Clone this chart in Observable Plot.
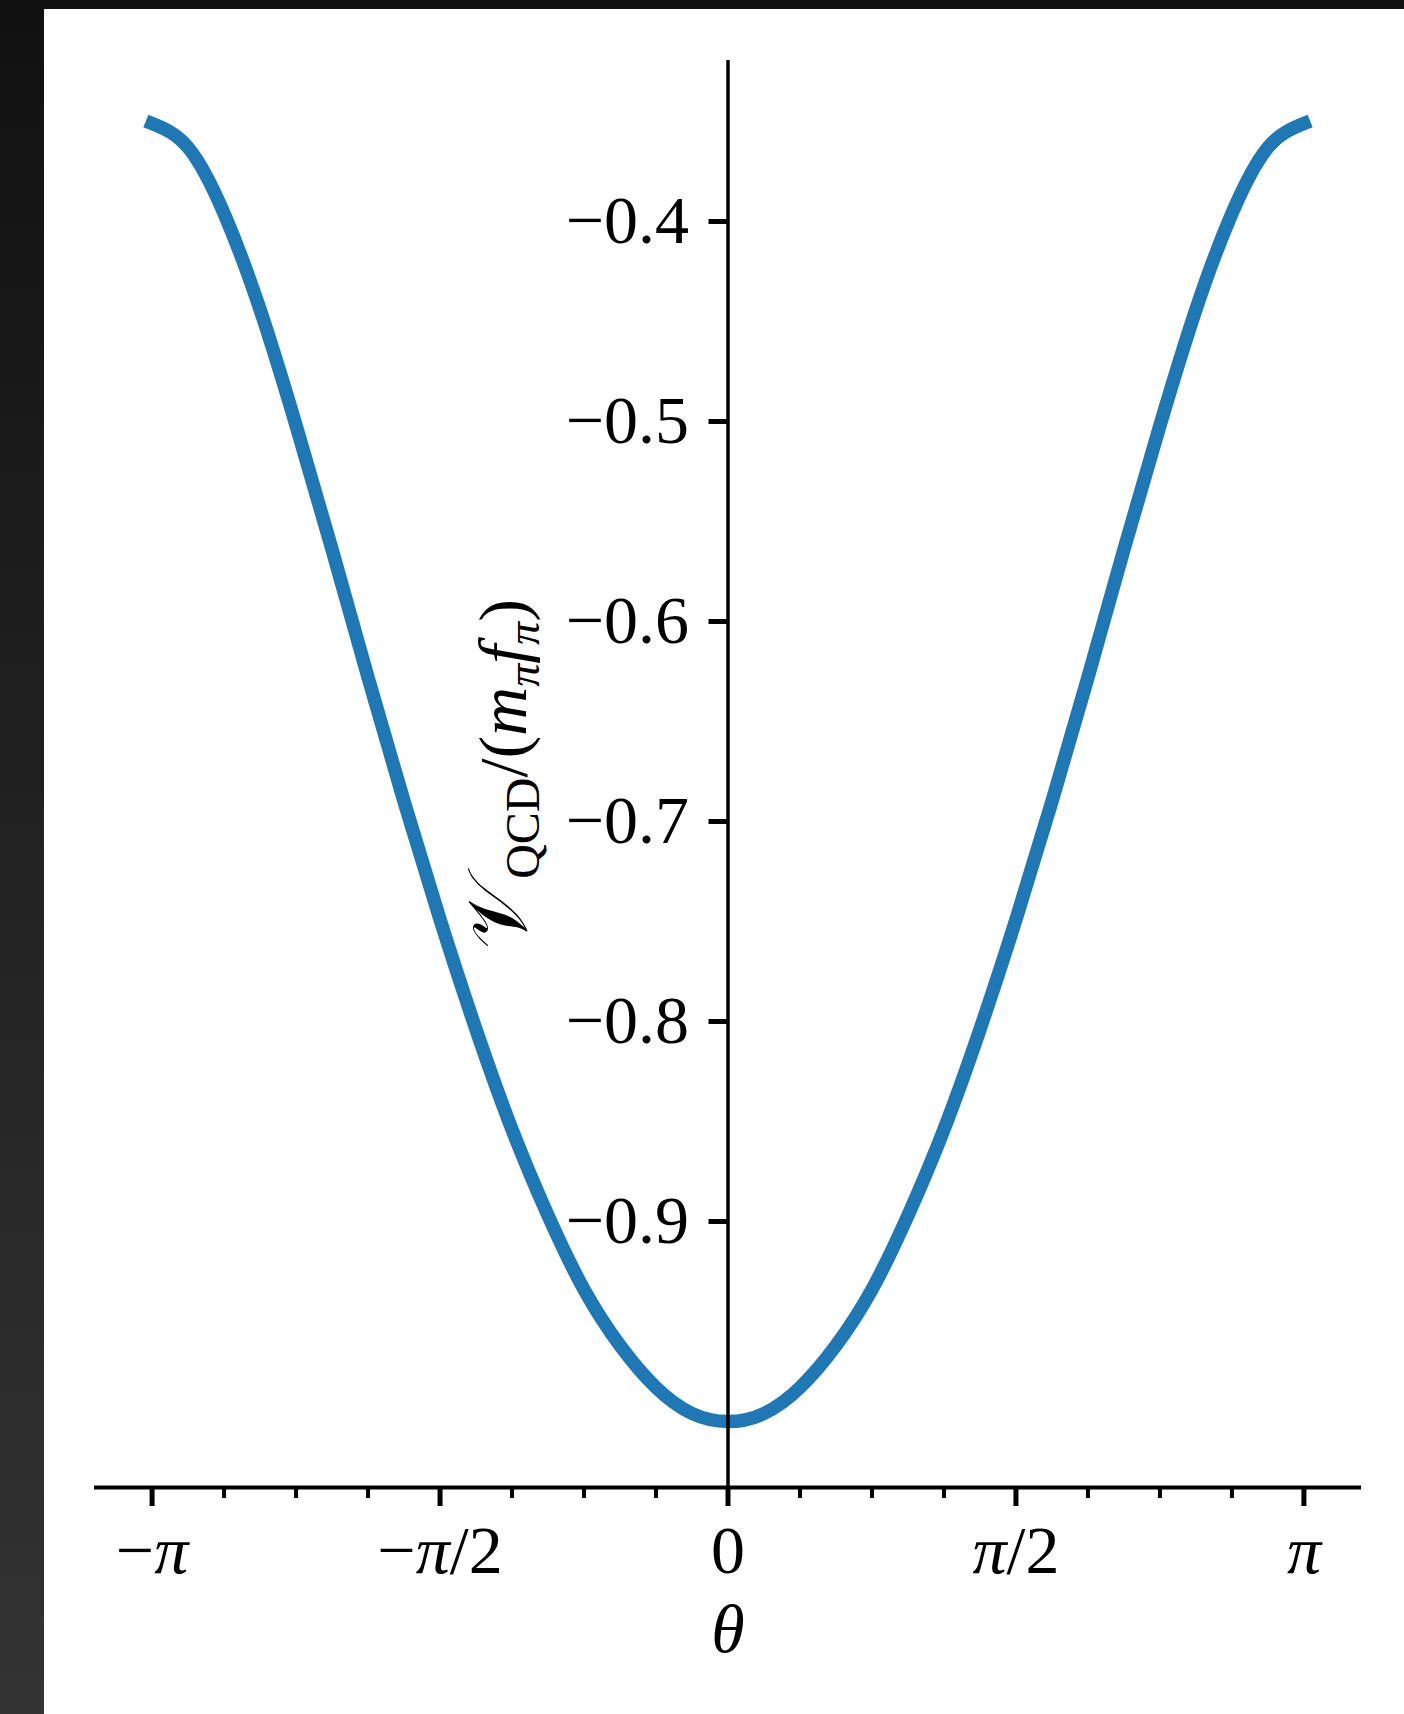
<!DOCTYPE html>
<html><head><meta charset="utf-8">
<script src="https://cdn.jsdelivr.net/npm/d3@7"></script>
<script src="https://cdn.jsdelivr.net/npm/@observablehq/plot@0.6"></script>
<style>
html,body{margin:0;padding:0;background:#fff;}
#wrap{position:relative;width:1404px;height:1714px;overflow:hidden;background:#fff;}
#wrap svg{position:absolute;left:0;top:0;}
#topbar{position:absolute;left:0;top:0;width:1404px;height:9px;background:#111;}
#leftbar{position:absolute;left:0;top:0;width:44px;height:1714px;background:linear-gradient(#111111,#333333);}
</style></head><body>
<div id="wrap"><div id="topbar"></div><div id="leftbar"></div></div>
<script>
const PI = Math.PI;
// theta samples in units of π (multiples of π/16)
const thetaUnits = [-16,-15,-14,-13,-12,-11,-10,-9,-8,-7,-6,-5,-4,-3,-2,-1,0,1,2,3,4,5,6,7,8,9,10,11,12,13,14,15,16].map(j => j / 16);
// V_QCD/(m_π f_π)
const vValues = [-0.351,-0.363,-0.396,-0.444,-0.502,-0.564,-0.628,-0.690,-0.749,-0.804,-0.854,-0.897,-0.934,-0.962,-0.983,-0.996,-1.000,-0.996,-0.983,-0.962,-0.934,-0.897,-0.854,-0.804,-0.749,-0.690,-0.628,-0.564,-0.502,-0.444,-0.396,-0.363,-0.351];

const xMajorUnits = [-1, -0.5, 0, 0.5, 1];
const xMajorLabels = ["−π", "−π/2", "0", "π/2", "π"];
const xMinorUnits = [-0.875,-0.75,-0.625,-0.375,-0.25,-0.125,0.125,0.25,0.375,0.625,0.75,0.875];
const yTicks = [-0.4, -0.5, -0.6, -0.7, -0.8, -0.9];
const yTickLabels = ["−0.4", "−0.5", "−0.6", "−0.7", "−0.8", "−0.9"];
const xLabel = "θ";
const yLabelKey = "YLABEL";

const xDomain = [-1.1 * PI, 1.1 * PI];
const yDomain = [-1.033, -0.3195];

const data = thetaUnits.map((u, i) => ({theta: u * PI, v: vValues[i]}));
const xMajor = xMajorUnits.map((u, i) => ({x: u * PI, label: xMajorLabels[i]}));
const xMinor = xMinorUnits.map(u => ({x: u * PI}));
const yTickData = yTicks.map((v, i) => ({y: v, label: yTickLabels[i]}));

const FONT = "'Liberation Serif', 'DejaVu Serif', serif";
const FS = 68;
const yBottom = yDomain[0];

const svg = Plot.plot({
  width: 1404, height: 1714,
  marginLeft: 94, marginRight: 43, marginTop: 60, marginBottom: 227,
  style: {fontFamily: FONT, background: "transparent", overflow: "visible", color: "black"},
  x: {domain: xDomain, axis: null},
  y: {domain: yDomain, axis: null},
  marks: [
    Plot.line(data, {x: "theta", y: "v", stroke: "#1f77b4", strokeWidth: 13.5, curve: "natural", strokeLinecap: "square", strokeLinejoin: "round"}),
    // spines
    Plot.ruleY([yBottom], {stroke: "black", strokeWidth: 4}),
    Plot.ruleX([0], {stroke: "black", strokeWidth: 3.5}),
    // x ticks
    Plot.ruleX(xMajor, {x: "x", y1: yBottom, y2: yBottom, insetBottom: -19, stroke: "black", strokeWidth: 5}),
    Plot.ruleX(xMinor, {x: "x", y1: yBottom, y2: yBottom, insetBottom: -11, stroke: "black", strokeWidth: 4}),
    // y ticks (at x = 0)
    Plot.ruleY(yTickData, {y: "y", x1: 0, x2: 0, insetLeft: -19, stroke: "black", strokeWidth: 5}),
    // tick labels
    Plot.text(yTickData, {x: 0, y: "y", text: "label", textAnchor: "end", dx: -39, fontSize: FS, lineAnchor: "middle", fill: "black"}),
    Plot.text(xMajor, {x: "x", y: yBottom, text: "label", dy: 64, fontSize: FS, lineAnchor: "middle", fill: "black"}),
    // axis labels
    Plot.text([xLabel], {x: 0, y: yBottom, text: d => d, dy: 143, fontSize: FS, fontStyle: "italic", lineAnchor: "middle", fill: "black"}),
    Plot.text([yLabelKey], {frameAnchor: "left", dx: 410, text: d => d, rotate: -90, fontSize: FS, textAnchor: "middle", lineAnchor: "middle", fill: "black"})
  ]
});

d3.select(svg).selectAll("text").each(function() {
  const t = this.textContent;
  const sel = d3.select(this);
  if (xMajorLabels.includes(t) && t.includes("π")) {
    sel.text(null);
    for (const ch of t) {
      const ts = sel.append("tspan").text(ch);
      if (ch === "π") ts.attr("font-style", "italic");
    }
  } else if (t === yLabelKey) {
    sel.text(null);
    const parts = [
      {t: "𝒱", size: 84},
      {t: "QCD", size: 48, dy: 13},
      {t: "/(", dy: -13},
      {t: "m", italic: true},
      {t: "π", italic: true, size: 46, dy: 13},
      {t: "f", italic: true, dy: -13},
      {t: "π", italic: true, size: 46, dy: 13},
      {t: ")", dy: -13}
    ];
    for (const p of parts) {
      const ts = sel.append("tspan").text(p.t);
      if (p.italic) ts.attr("font-style", "italic");
      if (p.size) ts.attr("font-size", p.size);
      if (p.dy) ts.attr("dy", p.dy);
    }
  }
});

document.getElementById("wrap").insertBefore(svg, document.getElementById("topbar"));
</script>
</body></html>
